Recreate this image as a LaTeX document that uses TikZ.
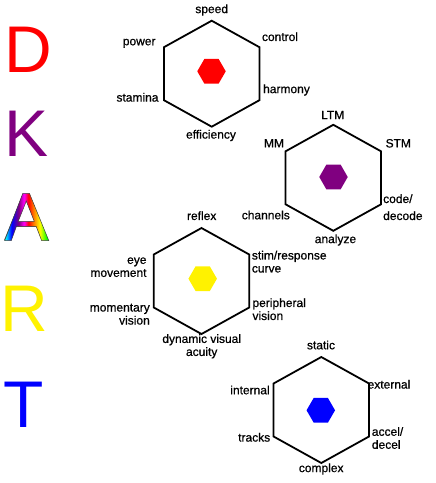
\documentclass[tikz,border=0pt]{standalone}
\usepackage{fontspec}
\setmainfont{Liberation Sans}
\newfontfamily\labelfont{Liberation Sans}[FakeBold=0.7]
\usetikzlibrary{shapes.geometric}

\pgfdeclarehorizontalshading{rainbowshade}{100bp}{color(0bp)=(cyan); color(26bp)=(cyan); color(33bp)=(blue); color(41bp)=(violet); color(47bp)=(magenta); color(52bp)=(red); color(58bp)=(orange); color(65bp)=(yellow); color(73bp)=(green); color(100bp)=(green)}

\begin{document}
\begin{tikzpicture}[x=1pt, y=-1pt,
    every node/.style={font=\labelfont\fontsize{12}{13}\selectfont, inner sep=0pt},
    bigletter/.style={font=\fontsize{66}{66}\selectfont, anchor=base west},
    outerhex/.style={draw, line width=1.8pt, regular polygon, regular polygon sides=6, shape border rotate=30, minimum size=106pt, xscale=1.04, transform shape},
    innerhex/.style={regular polygon, regular polygon sides=6, minimum size=28.5pt}]

    \useasboundingbox (0,0) rectangle (436,483);

    \node[bigletter, text=red] (d) at (4.2,72.7) {D};
    \node[bigletter, text=violet] (k) at (4.5,156.7) {K};
    \node[bigletter, text=darkgray] (a) at (4.7,240.7) {A};
    \shadedraw[shading=rainbowshade, draw=darkgray, line width=0.5pt, even odd rule]
        (4.6,240.7) -- (22.75,193.45) -- (29.48,193.45) -- (48.82,240.7) -- (41.7,240.7)
        -- (36.19,226.39) -- (16.43,226.39) -- (11.24,240.7) -- cycle
        (18.24,221.3) -- (34.25,221.3) -- (26.29,201.06) -- cycle;
    \node[bigletter, text=yellow] (r) at (0.8,331.7) {R};
    \node[bigletter, text=blue] (t) at (3.5,427.3) {T};

    \node[outerhex] (dhex) at (211.7,73.7) {};
    \node[innerhex, fill=red] (dcore) at (211.5,71.3) {};
    \node (speed) at (211.7,10) {speed};
    \node (power) at (139.2,43.3) {power};
    \node (control) at (280,36.7) {control};
    \node (stamina) at (137.5,97.3) {stamina};
    \node (harmony) at (286.5,90) {harmony};
    \node (efficiency) at (211,135.5) {efficiency};

    \node[outerhex] (khex) at (333.3,177.8) {};
    \node[innerhex, fill=violet] (kcore) at (333.5,177) {};
    \node (ltm) at (332.7,115) {LTM};
    \node (mm) at (274,143.3) {MM};
    \node (stm) at (398.3,143.3) {STM};
    \node[anchor=west, align=left] (code) at (383,207.2) {code/\\[4pt]decode};
    \node (channels) at (265.8,215) {channels};
    \node (analyze) at (335.5,240) {analyze};

    \node[outerhex] (rhex) at (201.5,281) {};
    \node[innerhex, fill=yellow] (rcore) at (202.7,278.7) {};
    \node (reflex) at (201.7,215.7) {reflex};
    \node[anchor=east, align=right] (eye) at (146.7,267.2) {eye\\movement};
    \node[anchor=west, align=left] (stim) at (251.7,261.7) {stim/response\\curve};
    \node[anchor=east, align=right] (momentary) at (150,314.2) {momentary\\vision};
    \node[anchor=west, align=left] (peripheral) at (252.3,309.2) {peripheral\\vision};
    \node[align=center] (dynamic) at (201.7,346.3) {dynamic visual\\acuity};

    \node[outerhex] (thex) at (321.3,410) {};
    \node[innerhex, fill=blue] (tcore) at (320.8,410.3) {};
    \node (static) at (321,345) {static};
    \node (internal) at (250,390) {internal};
    \node (external) at (389,384.3) {external};
    \node (tracks) at (254.2,437.3) {tracks};
    \node[anchor=west, align=left] (accel) at (371.7,438) {accel/\\decel};
    \node (complex) at (321.2,469) {complex};

\end{tikzpicture}
\end{document}
